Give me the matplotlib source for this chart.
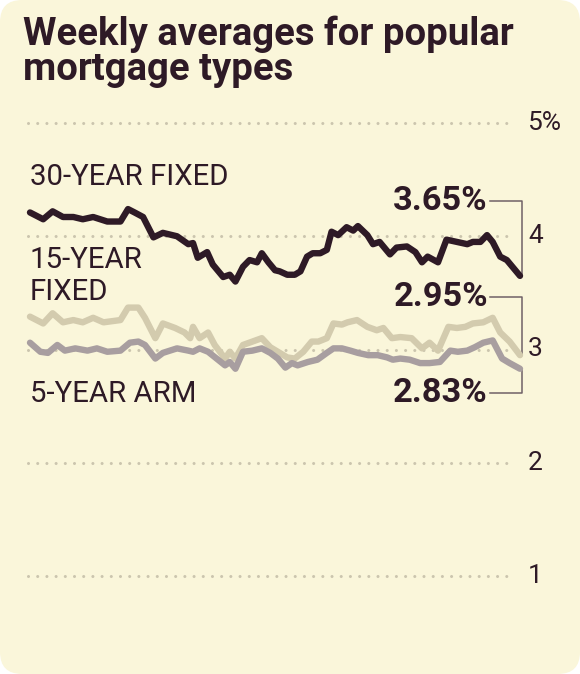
import matplotlib
matplotlib.use("Agg")
import matplotlib.pyplot as plt
from matplotlib.patches import FancyBboxPatch
from matplotlib.transforms import Affine2D

# weeks (0 = first week shown, 52 = latest) and rates in percent
weeks_30 = [0, 1.4, 2.4, 3.5, 4.6, 5.6, 6.7, 8.2, 9.6, 10.4, 11.1, 12.0, 13.1, 14.1, 15.6,
            16.8, 17.3, 17.8, 18.8, 19.4, 20.5, 21.2, 21.8, 22.6, 23.3, 24.1, 24.6, 25.3,
            26.0, 26.5, 27.3, 28.1, 28.7, 29.4, 30.0, 30.8, 31.5, 32.0, 32.7, 33.6, 34.3,
            34.8, 35.8, 36.4, 37.1, 38.2, 38.9, 40.0, 40.9, 41.6, 42.2, 43.3, 44.2, 45.3,
            46.4, 47.0, 47.8, 48.5, 49.1, 49.9, 50.6, 51.3, 52]
rate_30 = [4.21, 4.15, 4.22, 4.17, 4.17, 4.15, 4.17, 4.13, 4.13, 4.24, 4.21, 4.17, 3.99,
           4.03, 4.00, 3.93, 3.94, 3.81, 3.86, 3.75, 3.64, 3.66, 3.60, 3.73, 3.79, 3.77,
           3.85, 3.77, 3.70, 3.69, 3.66, 3.66, 3.69, 3.82, 3.85, 3.85, 3.88, 4.04, 4.01,
           4.08, 4.05, 4.09, 4.01, 3.93, 3.95, 3.84, 3.90, 3.91, 3.86, 3.77, 3.82, 3.77,
           3.97, 3.95, 3.93, 3.95, 3.95, 4.01, 3.95, 3.82, 3.79, 3.72, 3.65]

weeks_15 = [0, 1.4, 2.4, 3.5, 4.6, 5.6, 6.7, 7.8, 9.6, 10.4, 11.5, 12.2, 13.3, 14.1, 15.4,
            16.4, 17.0, 17.3, 18.0, 18.9, 19.6, 20.7, 21.2, 21.8, 22.6, 23.6, 24.6, 25.5,
            26.3, 27.3, 28.1, 29.0, 29.9, 30.6, 31.5, 32.2, 33.1, 33.7, 34.7, 35.8, 36.8,
            37.5, 38.4, 39.3, 40.5, 41.6, 42.4, 43.3, 44.4, 45.3, 46.2, 47.0, 48.1, 49.1,
            49.9, 50.9, 52]
rate_15 = [3.29, 3.23, 3.32, 3.24, 3.26, 3.24, 3.28, 3.24, 3.26, 3.37, 3.37, 3.28, 3.10,
           3.23, 3.19, 3.15, 3.10, 3.20, 3.10, 3.15, 3.04, 2.92, 2.98, 2.92, 3.04, 3.07,
           3.10, 3.02, 2.98, 2.93, 2.92, 2.98, 3.07, 3.07, 3.10, 3.23, 3.22, 3.24, 3.26,
           3.20, 3.17, 3.19, 3.10, 3.11, 3.10, 3.01, 3.06, 2.99, 3.20, 3.19, 3.20, 3.23,
           3.24, 3.28, 3.15, 3.07, 2.95]

weeks_arm = [0, 1.1, 1.9, 2.9, 3.7, 4.8, 6.1, 7.1, 8.2, 9.6, 10.6, 11.5, 12.2, 13.3, 14.1,
             15.6, 16.8, 17.3, 18.0, 18.9, 19.8, 20.7, 21.2, 21.8, 22.6, 23.6, 24.6, 25.5,
             26.3, 27.1, 27.8, 28.4, 29.5, 30.5, 31.5, 32.2, 33.1, 34.0, 34.8, 35.9, 36.9,
             37.9, 38.5, 39.3, 40.3, 41.4, 42.4, 43.5, 44.6, 45.4, 46.4, 47.2, 48.1, 49.1,
             50.1, 50.9, 52]
rate_arm = [3.06, 2.98, 2.97, 3.04, 2.99, 3.01, 2.99, 3.01, 2.98, 2.99, 3.06, 3.07, 3.04,
            2.92, 2.97, 3.01, 2.99, 2.98, 3.01, 2.98, 2.92, 2.86, 2.89, 2.83, 2.98, 2.99,
            3.01, 2.97, 2.92, 2.84, 2.88, 2.86, 2.89, 2.91, 2.97, 3.01, 3.01, 2.99, 2.97,
            2.95, 2.95, 2.93, 2.91, 2.92, 2.91, 2.88, 2.88, 2.89, 2.99, 2.98, 2.99, 3.02,
            3.06, 3.08, 2.92, 2.88, 2.83]

y_ticks = [1, 2, 3, 4, 5]
y_labels = ["1", "2", "3", "4", "5%"]

CREAM = "#faf6da"
INK = "#2e1a26"
TAN = "#d3cbae"
GREY = "#a89ea0"
DOTS = "#cbc5ae"
BRACKET = "#6f6066"

W, H = 580, 674
plt.rcParams["font.family"] = ["Roboto", "DejaVu Sans"]

fig = plt.figure(figsize=(W / 100, H / 100), dpi=100)
fig.patch.set_facecolor("white")
bg = FancyBboxPatch((0, 0), W / 100, H / 100, boxstyle="round,pad=0,rounding_size=0.22",
                    transform=fig.dpi_scale_trans, facecolor=CREAM, edgecolor="none",
                    zorder=-10)
fig.patches.append(bg)
renderer = fig.canvas.get_renderer()


def fit(txt, width_px):
    # shrink/grow the font so the text spans the width seen in the original
    w = txt.get_window_extent(renderer).width
    txt.set_fontsize(txt.get_fontsize() * width_px / w)
    return txt.get_fontsize()


# pixel coords measured from the top-left corner
pix = Affine2D().scale(1, -1).translate(0, H)

ax = fig.add_axes([30 / W, (H - 576) / H, 490 / W, (576 - 123) / H])
ax.set_facecolor("none")
ax.set_xlim(0, 52)
ax.set_ylim(1, 5)
for s in ax.spines.values():
    s.set_visible(False)
ax.set_xticks([])
ax.set_yticks([])

for t in y_ticks:
    ax.plot([-0.2, 51.5], [t, t], color=DOTS, lw=2.2, linestyle=(0, (0.01, 3.0)),
            dash_capstyle="round", clip_on=False, zorder=1)

ax.plot(weeks_15, rate_15, color=TAN, lw=4.6, solid_joinstyle="round",
        solid_capstyle="round", clip_on=False, zorder=3)
ax.plot(weeks_arm, rate_arm, color=GREY, lw=4.6, solid_joinstyle="round",
        solid_capstyle="round", clip_on=False, zorder=4)
ax.plot(weeks_30, rate_30, color=INK, lw=4.6, solid_joinstyle="round",
        solid_capstyle="round", clip_on=False, zorder=5)

# right-hand scale
tick_texts = []
for t, lab in zip(y_ticks, y_labels):
    tt = ax.text(1.0 + 8 / 490, t, lab, transform=ax.get_yaxis_transform(),
                 ha="left", va="center", fontsize=20, color=INK)
    tick_texts.append(tt)
tick_size = fit(tick_texts[-1], 34)
for tt in tick_texts:
    tt.set_fontsize(tick_size)

# end-value callouts with brackets
callouts = [(rate_30[-1], 4.31), (rate_15[-1], 3.46), (rate_arm[-1], 2.62)]
big = None
for end_val, lab_y in callouts:
    ax.plot([48.85, 52.2, 52.2], [lab_y, lab_y, end_val], color=BRACKET, lw=1.1,
            clip_on=False, zorder=2)
    tc = ax.text(48.6, lab_y, f"{end_val:.2f}%", ha="right", va="center", fontsize=21,
                 fontweight="bold", color=INK)
    if big is None:
        big = fit(tc, 94)
    tc.set_fontsize(big)

t1 = fig.text(23, 45, "Weekly averages for popular", transform=pix, fontsize=28,
              fontweight="bold", color=INK, va="baseline")
fs = fit(t1, 490)
fig.text(23, 80, "mortgage types", transform=pix, fontsize=fs,
         fontweight="bold", color=INK, va="baseline")

l1 = fig.text(30, 185, "30-YEAR FIXED", transform=pix, fontsize=21, color=INK,
              va="baseline")
ls = fit(l1, 198)
fig.text(30, 268, "15-YEAR", transform=pix, fontsize=ls, color=INK, va="baseline")
fig.text(30, 300, "FIXED", transform=pix, fontsize=ls, color=INK, va="baseline")
fig.text(30, 402, "5-YEAR ARM", transform=pix, fontsize=ls, color=INK, va="baseline")

fig.savefig("out.png", dpi=100, facecolor=fig.get_facecolor())
